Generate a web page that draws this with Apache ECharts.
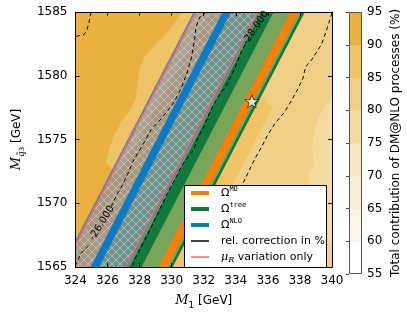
<!DOCTYPE html>
<html><head><meta charset="utf-8">
<script src="https://cdn.jsdelivr.net/npm/echarts@6/dist/echarts.min.js"></script>
<style>html,body{margin:0;padding:0;background:#fff}#c{width:407px;height:315px}</style>
</head><body><div id="c"></div>
<script>
// ---------------- data ----------------
const xRange = [324, 340];          // M1 [GeV]
const yRange = [1565, 1585];        // M_q3 [GeV]
const cbarLevels = [55, 60, 65, 70, 75, 80, 85, 90, 95];
const cbarColors = ['#ffffff', '#fcf5e6', '#f9edd5', '#f7e6c2', '#f4d9a0', '#f2cf86', '#efc467', '#ebb042'];

// filled contours of total DM@NLO contribution (level index into cbarColors)
const bgFull = [[324, 1565], [340, 1565], [340, 1585], [324, 1585]];
const bg90Left = [[324, 1565], [325.4, 1565], [333.6, 1585], [324, 1585]];
const bg85LeftPatch = [[330.59, 1585], [330.24, 1584.23], [329.76, 1583.46], [329.18, 1582.69], [328.71, 1582.08], [328.29, 1581.46], [328.0, 1580.54], [327.88, 1579.38], [327.76, 1578.23], [327.41, 1577.31], [326.82, 1576.31], [326.35, 1575.15], [326.12, 1574.23], [325.88, 1573.23], [326.3, 1572.7], [327.0, 1572.9], [332.4, 1585]];
const bg85RightStrip = [[330.0, 1565], [331.1, 1565], [336.3, 1577.5], [335.5, 1578.5]];
const bg75RightPatch = [[340, 1578.23], [339.59, 1577.62], [339.18, 1576.85], [338.88, 1575.54], [338.76, 1574.38], [338.82, 1573.23], [338.59, 1572.23], [338.41, 1570.54], [339.29, 1567.46], [340, 1566.69]];
const bgLevels = [5, 7, 6, 6, 4];

// relic-density bands: M1 edges at M=1565, shifted by bandShift at M=1585
const bandShift = 8.24;
const treeUncBand = [325.18, 330.06];
const treeBand = [327.35, 328.12];
const treeEdge = [329.88, 330.06];
const moBand = [329.18, 329.71];
const nloMuRBand = [323.29, 327.12];
const nloBand = [324.94, 325.47];

// relative-correction contours (%)
const contourCorner = [[324.97, 1585], [324.88, 1584.38], [324.71, 1583.54], [324.53, 1583.23], [324.0, 1583.08]];
const contour26Upper = [[332.18, 1585], [331.76, 1584.62], [331.53, 1583.85], [331.41, 1582.69], [331.24, 1581.46], [330.94, 1580.15], [330.59, 1579.0], [330.18, 1578.0], [329.88, 1577.46], [329.29, 1576.54], [328.71, 1575.77], [328.29, 1574.77], [327.88, 1573.92], [327.53, 1573.15], [327.29, 1572.38], [326.94, 1571.46], [326.53, 1570.54], [326.24, 1569.77]];
const contour26Lower = [[324.82, 1566.69], [324.35, 1566.08], [324.06, 1565.31], [324.0, 1565.15]];
const contour28 = [[334.59, 1582.46], [334.35, 1581.92], [334.0, 1580.77], [333.41, 1579.23], [332.82, 1578.23], [332.41, 1577.23], [332.06, 1576.15], [331.65, 1575.15], [331.35, 1574.15], [330.65, 1573.0], [330.29, 1572.08], [329.88, 1571.15], [329.29, 1569.62], [328.71, 1568.08], [328.24, 1566.92], [327.76, 1565.77], [327.53, 1565.0]];
const contourRight = [[340.0, 1584.92], [339.71, 1583.77], [339.35, 1582.46], [338.76, 1581.31], [338.35, 1580.69], [338.18, 1579.77], [337.82, 1578.85], [337.41, 1577.92], [337.0, 1577.08], [336.47, 1576.31], [336.0, 1575.38], [335.59, 1574.38], [335.18, 1573.46], [334.76, 1572.38], [334.35, 1571.31], [333.76, 1569.77], [333.12, 1568.08], [332.53, 1566.54], [332.0, 1565.0]];
const contourLabelText = ['-26.000', '-28.000'];
const contourLabelPos = [[325.65, 1568.46], [335.24, 1583.77]];
const contourLabelAngle = [58, 56];

const benchmark = [[335, 1578]];

// ---------------- styles ----------------
const FONT = 'DejaVu Sans';
const C_LGREEN = '#78a55a', C_DGREEN = '#10793b', C_ORANGE = '#fd7f08', C_BLUE = '#0b7bc6', C_RED = '#f26a5f', C_EBLUE = '#4a7fc0';

const T = 8;
const hc = document.createElement('canvas');
hc.width = T; hc.height = T;
const g = hc.getContext('2d');
g.strokeStyle = 'rgba(240,185,185,0.8)';
g.lineWidth = 0.9;
g.beginPath(); g.moveTo(-1, -1); g.lineTo(T + 1, T + 1); g.moveTo(-1, T + 1); g.lineTo(T + 1, -1); g.stroke();

function bandPolygon(e) {
  return [[e[0], yRange[0]], [e[1], yRange[0]], [e[1] + bandShift, yRange[1]], [e[0] + bandShift, yRange[1]]];
}
function edgeLine(v) { return [[v, yRange[0]], [v + bandShift, yRange[1]]]; }

function polySeries(polys, fills, z) {
  return {
    type: 'custom', xAxisIndex: 0, yAxisIndex: 0, clip: true, silent: true, z: z, animation: false,
    data: polys.map(p => p[0]),
    renderItem: function (params, api) {
      const i = params.dataIndex;
      return { type: 'polygon', shape: { points: polys[i].map(p => api.coord(p)) }, style: { fill: fills[i] } };
    }
  };
}
function dashed(data) {
  return { type: 'line', xAxisIndex: 0, yAxisIndex: 0, data: data, symbol: 'none', showSymbol: false, clip: true,
    silent: true, animation: false, z: 6, lineStyle: { color: '#000', width: 1, type: [4, 3] } };
}

const bgPolys = [bgFull, bg90Left, bg85LeftPatch, bg85RightStrip, bg75RightPatch];
const bandPolys = [bandPolygon(treeUncBand), bandPolygon(treeBand), bandPolygon(treeEdge), bandPolygon(moBand)];
const edgeLines = [edgeLine(nloMuRBand[0] - 0.1), edgeLine(nloMuRBand[1] + 0.1), edgeLine(nloMuRBand[0]), edgeLine(nloMuRBand[1])];
const edgeColors = [C_EBLUE, C_EBLUE, C_RED, C_RED];

const axisBase = {
  type: 'value', gridIndex: 0, z: 20, splitLine: { show: false },
  axisLine: { show: true, onZero: false, lineStyle: { color: '#000', width: 1 } },
  axisTick: { show: true, inside: true, length: 4, lineStyle: { color: '#000' } },
  axisLabel: { color: '#000', fontSize: 12, fontFamily: FONT, showMinLabel: true, showMaxLabel: true, hideOverlap: false, formatter: v => String(v) }
};
const nameRich = {
  i: { fontFamily: 'DejaVu Serif', fontStyle: 'italic', fontSize: 13, lineHeight: 18 },
  s: { fontFamily: 'DejaVu Serif', fontStyle: 'italic', fontSize: 9, lineHeight: 8, verticalAlign: 'bottom' },
  n: { fontFamily: FONT, fontSize: 9, lineHeight: 8, verticalAlign: 'bottom' },
  ss: { fontFamily: FONT, fontSize: 7, lineHeight: 4, verticalAlign: 'bottom' }
};

const legendItems = [
  { text: '{o|Ω}{sup|MO}', color: C_ORANGE, w: 4 },
  { text: '{o|Ω}{sup|tree}', color: C_DGREEN, w: 4 },
  { text: '{o|Ω}{sup|NLO}', color: C_BLUE, w: 4 },
  { text: 'rel. correction in %', color: '#000', w: 1.5 },
  { text: '{m|μ}{sub|R} variation only', color: C_RED, w: 1.5 }
];
const legendRich = {
  o: { fontFamily: FONT, fontSize: 11, lineHeight: 14 },
  sup: { fontFamily: 'DejaVu Sans Mono', fontSize: 7, lineHeight: 7, verticalAlign: 'top' },
  m: { fontFamily: 'DejaVu Serif', fontStyle: 'italic', fontSize: 11, lineHeight: 14 },
  sub: { fontFamily: 'DejaVu Serif', fontStyle: 'italic', fontSize: 8, lineHeight: 7, verticalAlign: 'bottom' }
};
const legendGraphic = [{ type: 'rect', z: 100, shape: { x: 184.5, y: 185.5, width: 142, height: 82 }, style: { fill: '#fff', stroke: '#000', lineWidth: 1 } }];
legendItems.forEach((it, k) => {
  const y = 193 + k * 16;
  legendGraphic.push({ type: 'line', z: 101, shape: { x1: 191, y1: y, x2: 209, y2: y }, style: { stroke: it.color, lineWidth: it.w } });
  legendGraphic.push({ type: 'text', z: 101, x: 221, y: y, style: { text: it.text, rich: legendRich, fontFamily: FONT, fontSize: 11, fill: '#000', verticalAlign: 'middle', lineHeight: 14 } });
});

const chart = echarts.init(document.getElementById('c'), null, { renderer: 'canvas', width: 407, height: 315 });
chart.setOption({
  backgroundColor: '#fff',
  animation: false,
  grid: [
    { left: 60, top: 12, width: 272, height: 260 },
    { left: 349, top: 12, width: 13, height: 262 }
  ],
  xAxis: [
    Object.assign({}, axisBase, { min: xRange[0], max: xRange[1], interval: 2, position: 'bottom',
      name: '{i|M}{n|1} [GeV]', nameLocation: 'middle', nameGap: 20,
      nameTextStyle: { color: '#000', fontFamily: FONT, fontSize: 12, lineHeight: 18, rich: nameRich } }),
    Object.assign({}, axisBase, { min: xRange[0], max: xRange[1], interval: 2, position: 'top', axisLabel: { show: false } }),
    { type: 'value', gridIndex: 1, min: 0, max: 1, show: false }
  ],
  yAxis: [
    Object.assign({}, axisBase, { min: yRange[0], max: yRange[1], interval: 5, position: 'left',
      name: '{i|M}{s|q\u0303}{ss|3} [GeV]', nameLocation: 'middle', nameRotate: 90, nameGap: 40,
      nameTextStyle: { color: '#000', fontFamily: FONT, fontSize: 12, lineHeight: 18, rich: nameRich } }),
    Object.assign({}, axisBase, { min: yRange[0], max: yRange[1], interval: 5, position: 'right', axisLabel: { show: false } }),
    { type: 'value', gridIndex: 1, min: cbarLevels[0], max: cbarLevels[cbarLevels.length - 1], interval: 5, position: 'right', z: 20,
      splitLine: { show: false }, axisLine: { show: false },
      axisTick: { show: true, inside: true, length: 3, lineStyle: { color: '#444' } },
      axisLabel: { color: '#000', fontSize: 12, fontFamily: FONT, margin: 5, showMinLabel: true, showMaxLabel: true },
      name: 'Total contribution of DM@NLO processes (%)', nameLocation: 'middle', nameRotate: 90, nameGap: 28,
      nameTextStyle: { color: '#000', fontFamily: FONT, fontSize: 12 } }
  ],
  graphic: legendGraphic,
  series: [
    // colorbar
    { type: 'custom', xAxisIndex: 2, yAxisIndex: 2, silent: true, z: 2,
      data: cbarColors.map((c, i) => [0, cbarLevels[i]]),
      renderItem: function (params, api) {
        const i = params.dataIndex;
        const a = api.coord([0, cbarLevels[i + 1]]), b = api.coord([1, cbarLevels[i]]);
        return { type: 'rect', shape: { x: a[0], y: a[1], width: b[0] - a[0], height: b[1] - a[1] + 0.5 }, style: { fill: cbarColors[i] } };
      } },
    { type: 'custom', xAxisIndex: 2, yAxisIndex: 2, silent: true, z: 3, data: [[0, cbarLevels[0]]],
      renderItem: function (params, api) {
        const a = api.coord([0, cbarLevels[cbarLevels.length - 1]]), b = api.coord([1, cbarLevels[0]]);
        return { type: 'rect', shape: { x: a[0] + 0.5, y: a[1] + 0.5, width: b[0] - a[0] - 1, height: b[1] - a[1] - 1 }, style: { fill: 'none', stroke: '#555', lineWidth: 1 } };
      } },
    // background contours
    polySeries(bgPolys, bgLevels.map(l => cbarColors[l]), 1),
    // tree / MO bands
    polySeries(bandPolys, [C_LGREEN, C_DGREEN, C_DGREEN, C_ORANGE], 2),
    // NLO mu_R band (hatched)
    { type: 'custom', xAxisIndex: 0, yAxisIndex: 0, clip: true, silent: true, z: 3, data: [nloMuRBand[0]],
      renderItem: function (params, api) {
        const pts = bandPolygon(nloMuRBand).map(p => api.coord(p));
        return { type: 'group', children: [
          { type: 'polygon', shape: { points: pts }, style: { fill: 'rgba(85,135,195,0.5)' } },
          { type: 'polygon', shape: { points: pts }, style: { fill: { image: hc, repeat: 'repeat' } } }
        ] };
      } },
    // NLO band
    polySeries([bandPolygon(nloBand)], [C_BLUE], 4),
    // band edges
    { type: 'custom', xAxisIndex: 0, yAxisIndex: 0, clip: true, silent: true, z: 5, data: edgeLines.map(l => l[0]),
      renderItem: function (params, api) {
        const i = params.dataIndex;
        return { type: 'polyline', shape: { points: edgeLines[i].map(p => api.coord(p)) }, style: { stroke: edgeColors[i], lineWidth: 1.5, fill: 'none' } };
      } },
    dashed(contourCorner), dashed(contour26Upper), dashed(contour26Lower), dashed(contour28), dashed(contourRight),
    // contour labels
    { type: 'custom', xAxisIndex: 0, yAxisIndex: 0, clip: false, silent: true, z: 7, data: contourLabelPos,
      renderItem: function (params, api) {
        const i = params.dataIndex;
        const p = api.coord(contourLabelPos[i]);
        return { type: 'text', x: p[0], y: p[1], rotation: contourLabelAngle[i] * Math.PI / 180,
          style: { text: contourLabelText[i], fontFamily: FONT, fontSize: 10, fill: '#000', align: 'center', verticalAlign: 'middle' } };
      } },
    // benchmark star
    { type: 'scatter', xAxisIndex: 0, yAxisIndex: 0, data: benchmark, z: 8, silent: true,
      symbol: 'path://M0,-10 L2.35,-3.24 L9.51,-3.09 L3.8,1.24 L5.88,8.09 L0,4 L-5.88,8.09 L-3.8,1.24 L-9.51,-3.09 L-2.35,-3.24 Z',
      symbolSize: [14, 13], itemStyle: { color: '#fff', borderColor: '#000', borderWidth: 0.8 } }
  ]
});
</script></body></html>
